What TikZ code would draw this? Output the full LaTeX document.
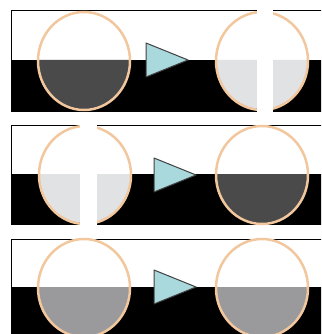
\documentclass[tikz,border=0pt]{standalone}
\usepackage{tikz}

\definecolor{ringpeach}{HTML}{F2C79E}
\definecolor{halfdark}{HTML}{4A4A4A}
\definecolor{halflight}{HTML}{E1E2E4}
\definecolor{halfmid}{HTML}{9A9A9C}
\definecolor{arrowcyan}{HTML}{A9D9DD}

\begin{document}
\begin{tikzpicture}[x=1pt, y=-1pt,
    panel/.style={draw=black, line width=1pt, fill=white},
    ring/.style={draw=ringpeach, line width=2.5pt},
    pointer/.style={draw=black!75, line width=1pt, fill=arrowcyan, line join=round},
    gap/.style={fill=white}]
  \useasboundingbox (0,0) rectangle (321,334);
  \clip (0,0) rectangle (321,334);

  % Panel 1: dunkle Hälfte links, helle Hälfte rechts (geteilt)
  \draw[panel] (11,11) rectangle (340,111);
  \fill[black] (11,60) rectangle (340,111);
  \fill[halfdark] (38,60) arc[start angle=180, end angle=0, x radius=46, y radius=49] -- cycle;
  \fill[halflight] (216,60) arc[start angle=180, end angle=0, x radius=46, y radius=49] -- cycle;
  \draw[ring] (84,61) ellipse[x radius=46, y radius=49];
  \draw[ring] (262,61) ellipse[x radius=46, y radius=49];
  \draw[pointer] (146,43) -- (146,77) -- (188,60) -- cycle;
  \fill[gap] (257,0) rectangle (273,118);

  % Panel 2: geteilt links, dunkel rechts
  \draw[panel] (11,125) rectangle (340,224);
  \fill[black] (11,174) rectangle (340,224);
  \fill[halflight] (39,174) arc[start angle=180, end angle=0, x radius=46, y radius=49] -- cycle;
  \fill[halfdark] (216,174) arc[start angle=180, end angle=0, x radius=46, y radius=49] -- cycle;
  \draw[ring] (85,175) ellipse[x radius=46, y radius=49];
  \draw[ring] (262,175) ellipse[x radius=46, y radius=49];
  \draw[pointer] (154,158) -- (154,192) -- (196,175) -- cycle;
  \fill[gap] (80,118) rectangle (97,231);

  % Panel 3: beide mittelgrau
  \draw[panel] (11,239) rectangle (340,345);
  \fill[black] (11,287) rectangle (340,345);
  \fill[halfmid] (38,287) arc[start angle=180, end angle=0, x radius=46, y radius=49] -- cycle;
  \fill[halfmid] (216,287) arc[start angle=180, end angle=0, x radius=46, y radius=49] -- cycle;
  \draw[ring] (84,288) ellipse[x radius=46, y radius=49];
  \draw[ring] (262,288) ellipse[x radius=46, y radius=49];
  \draw[pointer] (154,270) -- (154,304) -- (196,287) -- cycle;
\end{tikzpicture}
\end{document}
